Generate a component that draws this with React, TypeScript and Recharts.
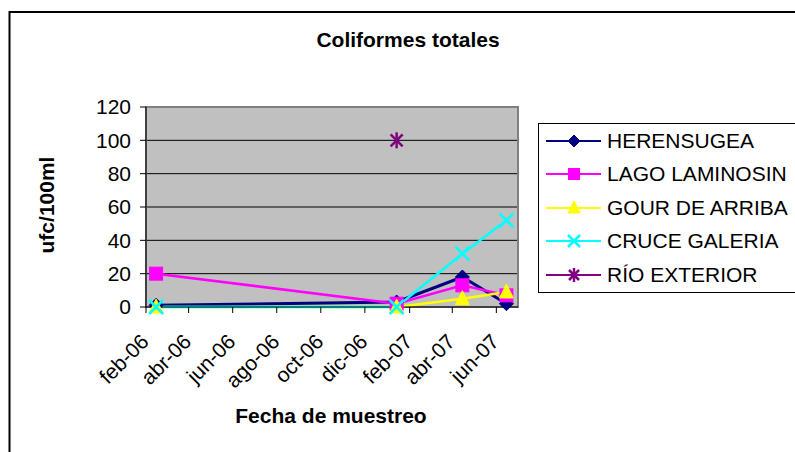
import React from "react";
import {
  CartesianGrid,
  Line,
  LineChart,
  ReferenceArea,
  XAxis,
  YAxis,
} from "recharts";

const FONT = "Arial, 'Liberation Sans', sans-serif";

// sampling dates
const DATES = ["2006-02-15", "2007-01-14", "2007-04-15", "2007-06-15"];

const HERENSUGEA = [1, 3, 18, 2];
const LAGO_LAMINOSIN = [20, 2, 13, 7];
const GOUR_DE_ARRIBA = [0, 0, 5, 9];
const CRUCE_GALERIA = [0, 0, 32, 52];
const RIO_EXTERIOR = [null, 100, null, null];

const TICK_DATES = [
  "2006-02-01", "2006-04-01", "2006-06-01", "2006-08-01", "2006-10-01",
  "2006-12-01", "2007-02-01", "2007-04-01", "2007-06-01",
];
const TICK_LABELS = [
  "feb-06", "abr-06", "jun-06", "ago-06", "oct-06", "dic-06", "feb-07", "abr-07", "jun-07",
];
const Y_TICKS = [0, 20, 40, 60, 80, 100, 120];

const X_MIN = Date.parse("2006-02-01");
const X_MAX = Date.parse("2007-07-01");

const SERIES = [
  { key: "herensugea", name: "HERENSUGEA", color: "#000080", shape: "diamond" },
  { key: "lago", name: "LAGO LAMINOSIN", color: "#FF00FF", shape: "square" },
  { key: "gour", name: "GOUR DE ARRIBA", color: "#FFFF00", shape: "triangle" },
  { key: "cruce", name: "CRUCE GALERIA", color: "#00FFFF", shape: "x" },
  { key: "rio", name: "RÍO EXTERIOR", color: "#800080", shape: "star" },
];

const data = DATES.map((d, i) => ({
  t: Date.parse(d),
  herensugea: HERENSUGEA[i],
  lago: LAGO_LAMINOSIN[i],
  gour: GOUR_DE_ARRIBA[i],
  cruce: CRUCE_GALERIA[i],
  rio: RIO_EXTERIOR[i],
}));

function Marker({ shape, cx, cy, color, r = 7 }: { shape: string; cx: number; cy: number; color: string; r?: number }) {
  if (cx == null || cy == null || Number.isNaN(cy)) return null;
  switch (shape) {
    case "diamond":
      return <polygon points={`${cx},${cy - r} ${cx + r},${cy} ${cx},${cy + r} ${cx - r},${cy}`} fill={color} stroke={color} />;
    case "square":
      return <rect x={cx - r + 0.5} y={cy - r + 0.5} width={2 * r - 1} height={2 * r - 1} fill={color} stroke={color} />;
    case "triangle":
      return <polygon points={`${cx},${cy - r - 1} ${cx + r},${cy + r - 1} ${cx - r},${cy + r - 1}`} fill={color} stroke={color} />;
    case "x":
      return (
        <g stroke={color} strokeWidth={2.5}>
          <line x1={cx - r} y1={cy - r} x2={cx + r} y2={cy + r} />
          <line x1={cx - r} y1={cy + r} x2={cx + r} y2={cy - r} />
        </g>
      );
    default:
      return (
        <g stroke={color} strokeWidth={2.5}>
          <line x1={cx - r + 1} y1={cy - r + 1} x2={cx + r - 1} y2={cy + r - 1} />
          <line x1={cx - r + 1} y1={cy + r - 1} x2={cx + r - 1} y2={cy - r + 1} />
          <line x1={cx} y1={cy - r - 1} x2={cx} y2={cy + r + 1} />
        </g>
      );
  }
}

const XTick = ({ x, y, payload }: any) => {
  const i = TICK_DATES.findIndex((d) => Date.parse(d) === payload.value);
  const ax = x + 4;
  const ay = y + 28;
  return (
    <text x={ax} y={ay} transform={`rotate(-45, ${ax}, ${ay})`} textAnchor="end" fontSize={21} fontFamily={FONT} fill="#000">
      {TICK_LABELS[i]}
    </text>
  );
};

const LegendBox = () => (
  <div
    style={{
      position: "absolute",
      left: 538,
      top: 123,
      border: "1px solid #000",
      width: 270,
      background: "#fff",
      fontFamily: FONT,
      fontSize: 21,
      color: "#000",
    }}
  >
    {SERIES.map((s) => (
      <div key={s.key} style={{ height: 33.5, display: "flex", alignItems: "center" }}>
        <svg width={68} height={20} style={{ flex: "none" }}>
          <line x1={7} y1={10} x2={62} y2={10} stroke={s.color} strokeWidth={2} />
          <Marker shape={s.shape} cx={35} cy={10} color={s.color} r={6} />
        </svg>
        <span>{s.name}</span>
      </div>
    ))}
  </div>
);

export default function App() {
  return (
    <div style={{ position: "fixed", left: 0, top: 0, width: 795, height: 452, overflow: "hidden", background: "#fff" }}>
      <LineChart width={795} height={452} data={data} margin={{ top: 107, right: 277, bottom: 0, left: 0 }}>
        <CartesianGrid horizontal vertical={false} stroke="#000" fill="#C0C0C0" />
        <ReferenceArea x1={X_MIN} x2={X_MAX} y1={0} y2={120} fill="none" stroke="#808080" strokeWidth={2} />
        <XAxis
          dataKey="t"
          type="number"
          scale="linear"
          domain={[X_MIN, X_MAX]}
          ticks={TICK_DATES.map((d) => Date.parse(d))}
          tick={<XTick />}
          tickSize={6}
          height={145}
          stroke="#000"
          interval={0}
        />
        <YAxis
          domain={[0, 120]}
          ticks={Y_TICKS}
          width={146}
          tickSize={6}
          tickMargin={9}
          stroke="#000"
          tick={{ fill: "#000", fontSize: 21, fontFamily: FONT }}
          interval={0}
        />
        {SERIES.map((s) => (
          <Line
            key={s.key}
            dataKey={s.key}
            name={s.name}
            stroke={s.color}
            strokeWidth={s.key === "herensugea" ? 3 : 2.5}
            isAnimationActive={false}
            dot={(p: any) => <Marker key={`${s.key}-${p.index}`} shape={s.shape} cx={p.cx} cy={p.cy} color={s.color} />}
            activeDot={false}
          />
        ))}
      </LineChart>
      <LegendBox />
      <svg width={795} height={452} style={{ position: "absolute", left: 0, top: 0, pointerEvents: "none" }}>
        <rect x={9.5} y={12} width={900} height={600} fill="none" stroke="#000" strokeWidth={2} />
        <text x={408} y={47} textAnchor="middle" fontFamily={FONT} fontWeight="bold" fontSize={21}>
          Coliformes totales
        </text>
        <text x={331} y={423} textAnchor="middle" fontFamily={FONT} fontWeight="bold" fontSize={21}>
          Fecha de muestreo
        </text>
        <text x={54} y={205} transform="rotate(-90, 54, 205)" textAnchor="middle" fontFamily={FONT} fontWeight="bold" fontSize={21}>
          ufc/100ml
        </text>
      </svg>
    </div>
  );
}
